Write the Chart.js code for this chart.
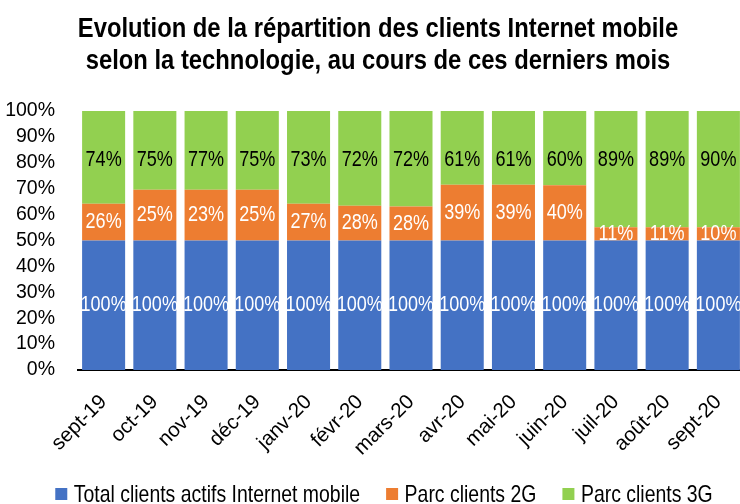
<!DOCTYPE html>
<html lang="fr">
<head>
  <meta charset="UTF-8">
  <title>Clients Internet mobile</title>
  <style>
    html, body { margin: 0; padding: 0; background: #fff; overflow: hidden; }
  </style>
</head>
<body>
  <canvas id="graphic" width="756" height="504"></canvas>

  <script src="https://cdn.jsdelivr.net/npm/chart.js"></script>

  <script>
    const titre = ['Evolution de la répartition des clients Internet mobile',
                   'selon la technologie, au cours de ces derniers mois'];

    const mois = ['sept-19', 'oct-19', 'nov-19', 'déc-19', 'janv-20', 'févr-20', 'mars-20',
                  'avr-20', 'mai-20', 'juin-20', 'juil-20', 'août-20', 'sept-20'];

    // hauteurs des segments (en % de la barre)
    const partTotal = [50, 50, 50, 50, 50, 50, 50, 50, 50, 50, 50, 50, 50];
    const part2G = [14.2, 19.6, 19.6, 19.6, 14.2, 13.4, 13.1, 21.5, 21.5, 21.3, 5.1, 5.1, 5.1];
    const part3G = [35.8, 30.4, 30.4, 30.4, 35.8, 36.6, 36.9, 28.5, 28.5, 28.7, 44.9, 44.9, 44.9];

    // étiquettes affichées sur les barres
    const etiqTotal = ['100%', '100%', '100%', '100%', '100%', '100%', '100%',
                       '100%', '100%', '100%', '100%', '100%', '100%'];
    const etiq2G = ['26%', '25%', '23%', '25%', '27%', '28%', '28%', '39%', '39%', '40%', '11%', '11%', '10%'];
    const etiq3G = ['74%', '75%', '77%', '75%', '73%', '72%', '72%', '61%', '61%', '60%', '89%', '89%', '90%'];

    const graduations = [0, 10, 20, 30, 40, 50, 60, 70, 80, 90, 100];

    const police = '"Liberation Sans", Arial, sans-serif';

    // texte resserré horizontalement (aspect Arial Narrow)
    function texteEtroit(ctx, txt, x, y, ech) {
      ctx.save();
      ctx.translate(x, y);
      ctx.scale(ech, 1);
      ctx.fillText(txt, 0, 0);
      ctx.restore();
    }

    const etiquettes = {
      id: 'etiquettes',
      afterDatasetsDraw(chart) {
        const ctx = chart.ctx;
        const y = chart.scales.y;
        ctx.save();
        ctx.font = '22px ' + police;
        ctx.textAlign = 'center';
        ctx.textBaseline = 'middle';
        chart.data.datasets.forEach((ds, i) => {
          chart.getDatasetMeta(i).data.forEach((bar, j) => {
            const p = bar.getProps(['x', 'y', 'base'], true);
            let yy = (p.y + p.base) / 2;
            if (ds.enHaut) yy = y.getPixelForValue(81);
            ctx.fillStyle = ds.couleurTexte;
            texteEtroit(ctx, ds.etiquettes[j], p.x, yy, 0.82);
          });
        });
        ctx.restore();
      }
    };

    const titreEtLegende = {
      id: 'titreEtLegende',
      afterDraw(chart) {
        const ctx = chart.ctx;
        const cx = chart.width / 2;
        ctx.save();
        ctx.fillStyle = '#000';
        ctx.textBaseline = 'alphabetic';

        // titre
        ctx.font = 'bold 28px ' + police;
        ctx.textAlign = 'center';
        texteEtroit(ctx, titre[0], cx, 37, 0.85);
        texteEtroit(ctx, titre[1], cx, 68.5, 0.85);

        // légende
        const ech = 0.81;
        ctx.font = '24px ' + police;
        ctx.textAlign = 'left';
        const items = chart.data.datasets.map(ds => ({
          texte: ds.label,
          couleur: ds.backgroundColor,
          w: ctx.measureText(ds.label).width * ech
        }));
        const total = items.reduce((s, it) => s + 12 + 6.5 + it.w, 0) + 26 * (items.length - 1);
        let x = cx + 6 - total / 2;
        items.forEach(it => {
          ctx.fillStyle = it.couleur;
          ctx.fillRect(x, 488, 12, 12);
          ctx.fillStyle = '#000';
          texteEtroit(ctx, it.texte, x + 18.5, 502, ech);
          x += 12 + 6.5 + it.w + 26;
        });
        ctx.restore();
      }
    };

    const lienzo = document.getElementById('graphic');

    new Chart(lienzo, {
      type: 'bar',
      data: {
        labels: mois,
        datasets: [
          { label: 'Total clients actifs Internet mobile', data: partTotal, backgroundColor: '#4472C4',
            etiquettes: etiqTotal, couleurTexte: '#fff' },
          { label: 'Parc clients 2G', data: part2G, backgroundColor: '#ED7D31',
            etiquettes: etiq2G, couleurTexte: '#fff' },
          { label: 'Parc clients 3G', data: part3G, backgroundColor: '#92D050',
            etiquettes: etiq3G, couleurTexte: '#000', enHaut: true }
        ]
      },
      options: {
        responsive: false,
        animation: false,
        categoryPercentage: 1,
        barPercentage: 0.84,
        layout: { padding: { left: 0, right: 12, top: 111, bottom: 34 } },
        plugins: {
          title: { display: false },
          legend: { display: false },
          tooltip: { enabled: false }
        },
        scales: {
          x: {
            stacked: true,
            grid: { display: false },
            border: { display: true, color: '#000', width: 2 },
            ticks: {
              color: '#000',
              font: { family: police, size: 20.5 },
              minRotation: 45,
              maxRotation: 45,
              padding: 12
            },
            afterFit: (s) => { s.height = 100; }
          },
          y: {
            stacked: true,
            min: 0,
            max: 100,
            grid: { display: false, drawTicks: false },
            border: { display: false },
            afterBuildTicks: (s) => { s.ticks = graduations.map(v => ({ value: v })); },
            ticks: {
              autoSkip: false,
              color: '#000',
              font: { family: police, size: 19.5 },
              padding: 23,
              callback: (v) => v + '%'
            },
            afterFit: (s) => { s.width = 78; }
          }
        }
      },
      plugins: [etiquettes, titreEtLegende]
    });
  </script>
</body>
</html>
